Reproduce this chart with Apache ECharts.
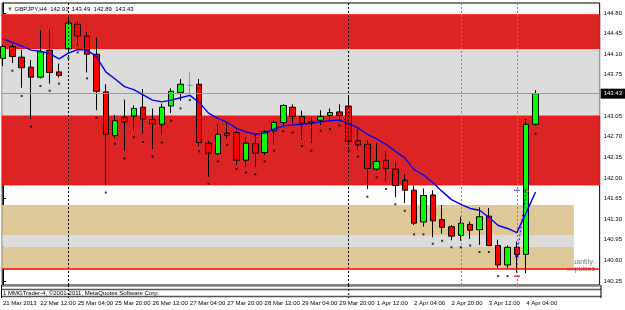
<!DOCTYPE html>
<html><head><meta charset="utf-8">
<script src="https://cdn.jsdelivr.net/npm/echarts@6/dist/echarts.min.js"></script>
<style>html,body{margin:0;padding:0;background:#fff}#c{width:625px;height:310px}</style>
</head><body><div id="c"></div>
<script>
// ---- data (GBPJPY H4) ----
const symbolName = 'GBPJPY,H4';
const xLabelBars = [0, 4, 8, 12, 16, 20, 24, 28, 32, 36, 40, 44, 48, 52, 56];
const xLabels = ['21 Mar 2013', '22 Mar 12:00', '25 Mar 04:00', '25 Mar 20:00', '26 Mar 12:00', '27 Mar 04:00', '27 Mar 20:00', '28 Mar 12:00', '29 Mar 04:00', '29 Mar 20:00', '1 Apr 12:00', '2 Apr 04:00', '2 Apr 20:00', '3 Apr 12:00', '4 Apr 04:00'];
const priceTicks = [140.25, 140.60, 140.95, 141.30, 141.65, 142.00, 142.35, 142.70, 143.05, 143.75, 144.10, 144.45, 144.80];

const opens  = [144.03,144.23,144.05,143.88,143.71,144.17,143.80,144.19,144.61,144.41,144.10,143.46,142.72,143.03,143.05,143.20,142.99,142.91,143.22,143.45,143.57,143.59,142.59,142.41,142.76,142.77,142.30,142.58,142.43,142.80,142.94,143.20,143.04,142.93,142.98,143.06,143.12,143.22,142.63,142.57,142.15,142.30,142.15,141.96,141.79,141.25,141.71,141.29,141.17,141.02,141.21,141.12,141.35,140.85,140.52,140.82,140.70,142.91];
const closes = [144.23,144.06,143.87,143.71,144.14,143.79,143.74,144.63,144.41,144.10,143.47,142.74,142.97,142.95,143.18,143.00,142.92,143.20,143.47,143.59,143.57,142.60,142.42,142.74,142.72,142.30,142.59,142.42,142.78,142.94,143.23,143.04,142.93,142.95,143.04,143.11,143.06,142.62,142.56,142.16,142.28,142.16,141.87,141.79,141.23,141.70,141.27,141.16,141.01,141.23,141.11,141.34,140.85,140.52,140.82,140.70,142.91,143.43];
const lows   = [143.90,143.95,143.53,143.00,143.69,143.60,143.70,144.14,144.24,143.79,143.15,141.88,142.68,142.46,142.81,142.75,142.49,142.72,143.10,143.31,143.42,142.54,142.02,142.39,142.67,142.22,142.19,142.19,142.39,142.58,142.90,142.93,142.64,142.59,142.90,142.98,142.98,142.56,142.47,141.81,142.12,141.94,141.67,141.57,141.20,141.17,140.99,141.05,140.94,140.93,140.96,140.86,140.84,140.47,140.47,140.39,140.38,142.89];
const highs  = [144.26,144.27,144.17,144.00,144.51,144.52,143.94,144.77,144.66,144.48,144.38,143.59,143.07,143.33,143.23,143.51,143.18,143.26,143.52,143.68,143.79,143.68,142.63,142.91,142.94,142.80,142.69,142.73,142.81,142.97,143.25,143.25,143.14,143.03,143.15,143.18,143.25,143.38,142.84,142.64,142.59,142.45,142.28,142.06,141.87,141.82,141.79,141.54,141.20,141.34,141.26,141.50,141.49,140.95,140.85,140.92,143.00,143.49];
const maValues = [144.36,144.30,144.24,144.17,144.15,144.11,144.02,144.12,144.18,144.17,144.06,143.80,143.68,143.55,143.50,143.41,143.32,143.29,143.32,143.36,143.40,143.28,143.10,143.01,142.94,142.84,142.78,142.74,142.76,142.83,142.88,142.90,142.91,142.93,142.95,142.97,142.98,142.92,142.85,142.74,142.66,142.57,142.45,142.34,142.14,142.05,141.92,141.77,141.63,141.55,141.48,141.45,141.33,141.19,141.14,141.07,141.41,141.76];
const dotValues = [null,143.82,143.39,142.87,143.56,143.48,143.60,144.03,144.13,143.69,143.02,141.75,142.58,142.33,142.69,142.61,142.36,142.60,142.97,143.18,143.32,142.45,141.90,142.28,142.56,142.15,142.09,142.06,142.28,142.46,142.79,142.77,142.54,142.46,142.80,142.83,142.89,142.46,142.36,141.68,142.01,141.81,141.55,141.44,141.04,141.04,140.88,140.93,140.82,140.82,140.85,140.74,140.74,140.33,140.33,null,null,142.75];

// signal marks near the last bars
const signalLineBars = [55, 56];
const signalLineValues = [140.67, 141.78];
const blueDash = [55, 141.79];
const redDash = [55, 140.33];
const orangeDot = [56.1, 141.78];

// zones: [top price, bottom price, colour, right end bar (null = to edge)]
const zoneTops    = [144.77, 144.19, 143.05, 141.54, 141.03, 140.83];
const zoneBottoms = [144.19, 143.05, 141.88, 141.03, 140.83, 140.45];
const zoneColors  = ['#dd2424', '#dcdcdc', '#dd2424', '#dfc897', '#dcdcdc', '#dfc897'];
const zoneEnds    = [null, null, null, 61.1, 61.1, 61.1];
const weekSeparators = [7, 37];
const daySignals = [49, 55];
const supportLine = 140.45;
const footerText = '1 MMGTrader-4, \u00a92001-2011, MetaQuotes Software Corp.';

const xMin = -0.085, xMax = 63.86, yMin = 140.18, yMax = 144.97;
const FONT = 'Liberation Sans, Arial, sans-serif';

const n = opens.length;
const candleData = opens.map((o, i) => [i, o, closes[i], lows[i], highs[i]]);
const maData = maValues.map((v, i) => [i, v]);
const dotData = dotValues.map((v, i) => [i, v]).filter(d => d[1] != null);
const last = n - 1;

const zoneAreas = zoneTops.map((t, k) => {
  const c = zoneColors[k];
  const red = c === '#dd2424';
  const a = zoneEnds[k] == null ? {yAxis: t} : {xAxis: xMin, yAxis: t};
  const b = zoneEnds[k] == null ? {yAxis: zoneBottoms[k]} : {xAxis: zoneEnds[k], yAxis: zoneBottoms[k]};
  a.itemStyle = {color: c, borderColor: red ? '#ff1010' : c, borderWidth: red ? 1 : 0};
  return [a, b];
});

const baseGraphics = [
  {type: 'line', silent: true, shape: {x1: 1.5, y1: 286.5, x2: 601, y2: 286.5}, style: {stroke: '#a0a0a0', lineWidth: 1}},
  {type: 'line', silent: true, shape: {x1: 1.5, y1: 289.5, x2: 601, y2: 289.5}, style: {stroke: '#555', lineWidth: 1.5}},
  {type: 'line', silent: true, shape: {x1: 1.5, y1: 296.5, x2: 601, y2: 296.5}, style: {stroke: '#555', lineWidth: 1.5}},
  {type: 'line', silent: true, shape: {x1: 601, y1: 285, x2: 601, y2: 298}, style: {stroke: '#000', lineWidth: 1}},
  {type: 'line', silent: true, shape: {x1: 1.5, y1: 285, x2: 1.5, y2: 298}, style: {stroke: '#000', lineWidth: 1}},
  {type: 'text', silent: true, left: 3, top: 290, style: {text: footerText, font: '6px Liberation Sans', fill: '#000'}},
  {type: 'text', silent: true, right: 30, top: 259, style: {text: 'Quantity\nImpulses', font: '7px Liberation Sans', fill: '#777', align: 'right', lineHeight: 7}}
];

const chart = echarts.init(document.getElementById('c'), null, {renderer: 'canvas'});
chart.setOption({
  animation: false,
  backgroundColor: '#ffffff',
  title: {
    text: '{t|▼} ' + symbolName + '  ' + [opens[last], highs[last], lows[last], closes[last]].map(v => v.toFixed(2)).join('  '),
    left: 2, top: 1,
    textStyle: {fontFamily: FONT, fontSize: 6, fontWeight: 'normal', color: '#000',
      rich: {t: {color: '#2e8b2e', fontSize: 6}}}
  },
  grid: {left: 1.5, right: 24, top: 3, bottom: 25, show: true, borderColor: '#000', borderWidth: 1, backgroundColor: 'transparent'},
  xAxis: {
    type: 'value', min: xMin, max: xMax,
    axisLine: {show: false}, axisTick: {show: false}, splitLine: {show: false},
    axisLabel: {
      customValues: xLabelBars,
      formatter: v => xLabels[xLabelBars.indexOf(Math.round(v))] || '',
      align: 'left', margin: 15, fontFamily: FONT, fontSize: 6, color: '#000'
    }
  },
  yAxis: {
    type: 'value', position: 'right', min: yMin, max: yMax, scale: true,
    axisLine: {show: true, lineStyle: {color: '#000', width: 1}},
    axisTick: {show: true, customValues: priceTicks, length: 3, lineStyle: {color: '#000'}},
    splitLine: {show: false},
    axisLabel: {customValues: priceTicks, formatter: v => v.toFixed(2), margin: 4, fontFamily: FONT, fontSize: 6, color: '#000'}
  },
  graphic: baseGraphics,
  series: [
    {
      name: 'zones', type: 'line', data: [], z: 1, silent: true,
      markArea: {silent: true, data: zoneAreas}
    },
    {
      name: 'separators', type: 'line', data: [], z: 2, silent: true,
      markLine: {
        silent: true, symbol: ['none', 'none'], label: {show: false},
        data: weekSeparators.map(b => ({xAxis: b, lineStyle: {color: '#000', type: [2, 2], width: 1}}))
          .concat(daySignals.map(b => ({xAxis: b, lineStyle: {color: '#22cc22', type: [2, 2], width: 1}})))
      }
    },
    {
      name: 'support', type: 'line', data: [], z: 8, silent: true,
      markLine: {
        silent: true, z: 8, symbol: ['none', 'none'], label: {show: false},
        data: [{yAxis: supportLine}],
        lineStyle: {color: '#ff0000', type: 'solid', width: 1.5}
      }
    },
    {
      name: 'price', type: 'candlestick', z: 4, barWidth: 6,
      encode: {x: 0, y: [1, 2, 3, 4]},
      data: candleData,
      itemStyle: {color: '#00ff00', color0: '#ff0000', borderColor: '#000', borderColor0: '#000', borderColorDoji: '#00ff00', borderWidth: 1},
      markLine: {
        silent: true, symbol: ['none', 'none'],
        data: [{yAxis: closes[last]}],
        lineStyle: {color: '#8e9bb0', type: 'solid', width: 1},
        label: {show: true, position: 'end', distance: 1, formatter: closes[last].toFixed(2),
          backgroundColor: '#000', color: '#fff', fontFamily: FONT, fontSize: 6, padding: [2, 3]}
      }
    },
    {
      name: 'MA', type: 'line', z: 5, data: maData, showSymbol: false, symbol: 'none',
      lineStyle: {color: '#0000ee', width: 1.4}
    },
    {
      name: 'dots', type: 'scatter', z: 5, data: dotData, symbol: 'rect', symbolSize: 2,
      itemStyle: {color: '#000'}
    },
    {
      name: 'signal', type: 'line', z: 6, data: signalLineBars.map((b, i) => [b, signalLineValues[i]]),
      symbol: 'rect', symbolSize: 3, showSymbol: true, itemStyle: {color: '#0000ee'},
      lineStyle: {color: '#0000ee', type: [2, 2], width: 1}
    },
    {
      name: 'marks', type: 'scatter', z: 6, symbol: 'rect',
      data: [
        {value: blueDash, symbolSize: [6, 1], itemStyle: {color: '#0000ee'}},
        {value: redDash, symbolSize: [6, 1.5], itemStyle: {color: '#ff0000'}},
        {value: orangeDot, symbol: 'circle', symbolSize: 3, itemStyle: {color: '#ff9933'}}
      ]
    }
  ]
});

// extend the weekly separators down through the lower sub-window using the chart's own x scale
const extra = weekSeparators.map(b => {
  const px = chart.convertToPixel({xAxisIndex: 0, yAxisIndex: 0}, [b, yMin])[0];
  return {type: 'line', silent: true, z: 10, shape: {x1: px, y1: 285, x2: px, y2: 298}, style: {stroke: '#000', lineWidth: 1, lineDash: [2, 2]}};
});
chart.setOption({graphic: baseGraphics.concat(extra)});
</script></body></html>
